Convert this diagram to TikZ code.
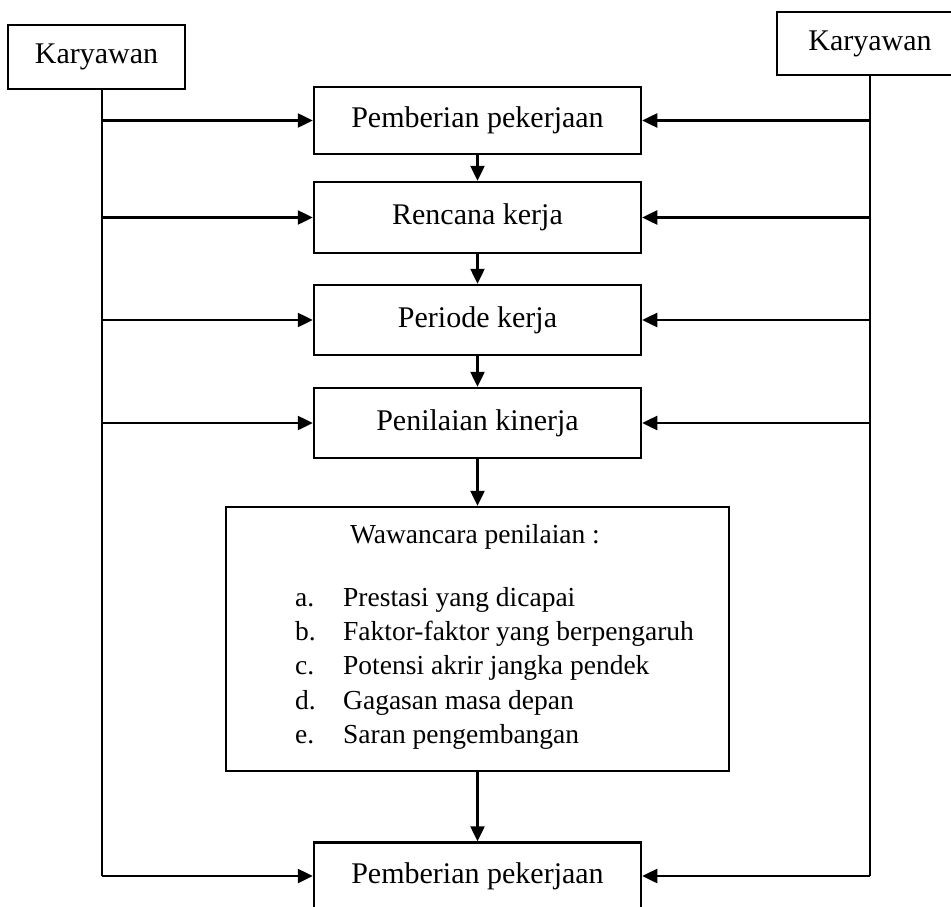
\documentclass[tikz,border=0pt]{standalone}
\usepackage{fontspec}
\setmainfont{Liberation Serif}
\usetikzlibrary{arrows.meta}
\begin{document}
\begin{tikzpicture}[x=1pt,y=-1pt,
  box/.style={draw,line width=2.5pt,inner sep=0pt,align=center},
  conn/.style={line width=2.5pt},
  arr/.style={line width=2.5pt,-{Triangle[length=15pt,width=14pt]}},
  big/.style={font=\fontsize{30}{36}\selectfont},
  small/.style={font=\fontsize{27.5}{33}\selectfont,inner sep=0pt}]
\useasboundingbox (0,0) rectangle (951,907);
% top Karyawan boxes
\node[box,big,minimum width=177pt,minimum height=64pt] (kl) at (96.5,57) {Karyawan};
\node[box,big,minimum width=186pt,minimum height=63pt] (kr) at (870,43.5) {Karyawan};
% process boxes
\node[box,big,minimum width=327pt,minimum height=67pt] (b1) at (477.5,120.5) {Pemberian pekerjaan};
\node[box,big,minimum width=327pt,minimum height=71pt] (b2) at (477.5,217.5) {Rencana kerja};
\node[box,big,minimum width=327pt,minimum height=70pt] (b3) at (477.5,320) {Periode kerja};
\node[box,big,minimum width=327pt,minimum height=70pt] (b4) at (477.5,423) {Penilaian kinerja};
\node[box,minimum width=503pt,minimum height=264pt] (b5) at (477.5,639) {};
\node[box,big,minimum width=327pt,minimum height=67pt] (b6) at (477.5,876) {Pemberian pekerjaan};
% text inside big box
\node[small,anchor=base] (wt) at (475,543) {Wawancara penilaian :};
\node[small,anchor=base west] (la) at (295,606) {a.};
\node[small,anchor=base west] (ta) at (343,606) {Prestasi yang dicapai};
\node[small,anchor=base west] (lb) at (295,640) {b.};
\node[small,anchor=base west] (tb) at (343,640) {Faktor-faktor yang berpengaruh};
\node[small,anchor=base west] (lc) at (295,674) {c.};
\node[small,anchor=base west] (tc) at (343,674) {Potensi akrir jangka pendek};
\node[small,anchor=base west] (ld) at (295,709) {d.};
\node[small,anchor=base west] (td) at (343,709) {Gagasan masa depan};
\node[small,anchor=base west] (le) at (295,743) {e.};
\node[small,anchor=base west] (te) at (343,743) {Saran pengembangan};
% side lines
\coordinate (ll) at (102,876);
\coordinate (rl) at (870,876);
\draw[conn] (kl.south -| ll) -- (ll);
\draw[conn] (kr.south -| rl) -- (rl);
\foreach \b in {b1,b2,b3,b4,b6}{
  \draw[arr] (\b.west -| ll) -- (\b.west);
  \draw[arr] (\b.east -| rl) -- (\b.east);
}
% vertical flow
\draw[arr] (b1) -- (b2);
\draw[arr] (b2) -- (b3);
\draw[arr] (b3) -- (b4);
\draw[arr] (b4) -- (b5);
\draw[arr] (b5) -- (b6);
\end{tikzpicture}
\end{document}
